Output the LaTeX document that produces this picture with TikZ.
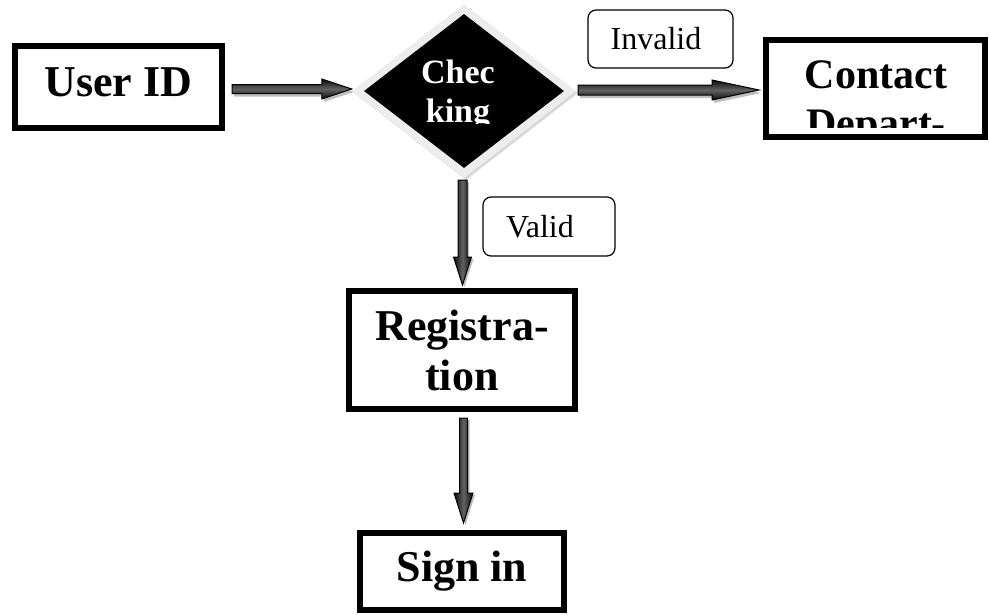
\documentclass[tikz,border=0pt]{standalone}
\usepackage{fontspec}
\setmainfont{Liberation Serif}
\usetikzlibrary{shapes.geometric,calc,shadows}
\tikzset{
  bigbox/.style={draw=black, line width=6pt, fill=white, inner sep=0pt,
    font=\fontsize{44}{50}\selectfont\bfseries, align=center},
  bigtxt/.style={inner sep=0pt, font=\fontsize{42}{48}\selectfont\bfseries},
  chktxt/.style={inner sep=0pt, text=white, font=\fontsize{34}{40}\selectfont\bfseries},
  tagbox/.style={draw=black, line width=1.2pt, rounded corners=8pt, fill=white,
    inner sep=0pt, font=\fontsize{32}{38}\selectfont},
  fatH/.style={draw=black, line width=1pt, top color=black!95, bottom color=black!95,
    middle color=black!62, drop shadow={shadow xshift=2pt, shadow yshift=-3pt, fill=black!50}},
  fatV/.style={draw=black, line width=1pt, left color=black!95, right color=black!95,
    middle color=black!62, drop shadow={shadow xshift=2pt, shadow yshift=-2pt, fill=black!50}},
}
\newcommand{\myHarrow}[5]{%
  \path[fatH] ($(#1)+(0,-#3)$) -- ($(#2)+(-#5,-#3)$) -- ($(#2)+(-#5,-#4)$) -- (#2)
    -- ($(#2)+(-#5,#4)$) -- ($(#2)+(-#5,#3)$) -- ($(#1)+(0,#3)$) -- cycle;}
\newcommand{\myVarrow}[5]{%
  \path[fatV] ($(#1)+(-#3,0)$) -- ($(#2)+(-#3,-#5)$) -- ($(#2)+(-#4,-#5)$) -- (#2)
    -- ($(#2)+(#4,-#5)$) -- ($(#2)+(#3,-#5)$) -- ($(#1)+(#3,0)$) -- cycle;}
\begin{document}
\begin{tikzpicture}[x=1pt, y=-1pt]
\useasboundingbox (0,0) rectangle (989,614);

% boxes
\node[bigbox, minimum width=207pt, minimum height=82pt, text depth=9pt] (userid) at (118.5,87) {User ID};
\node[bigbox, minimum width=219pt, minimum height=97pt] (contact) at (875.5,88.5) {};
\node[bigbox, minimum width=226pt, minimum height=118pt] (reg) at (462,350) {Registra-\\tion};
\node[bigbox, minimum width=204pt, minimum height=77pt] (sign) at (462,571.5) {Sign in};

% contact text (clipped by the box)
\begin{scope}
  \clip (769,43) rectangle (982,127);
  \node[bigtxt, anchor=base] (ct1) at (876,88) {Contact};
  \node[bigtxt, anchor=base] (ct2) at (876,137) {Depart-};
\end{scope}

% decision diamond
\node[diamond, minimum width=224pt, minimum height=174pt, inner sep=0pt, fill=black!7,
  drop shadow={shadow xshift=2pt, shadow yshift=-2pt, fill=black!30}] (check) at (464,91) {};
\node[diamond, minimum width=200pt, minimum height=154pt, inner sep=0pt, fill=black] (checkcore) at (464,91) {};
\begin{scope}
  \clip (380,40) rectangle (550,123);
  \node[chktxt, anchor=base] (chk1) at (458,83) {Chec};
  \node[chktxt, anchor=base] (chk2) at (458,122) {king};
\end{scope}

% labels
\node[tagbox, minimum width=145pt, minimum height=58pt] (invalid) at (660.5,39) {\hspace*{-9pt}Invalid};
\node[tagbox, minimum width=132pt, minimum height=59pt] (valid) at (549,226.5) {\hspace*{-18pt}Valid};

% connectors
\coordinate (a1s) at ($(userid.east)+(7,2)$);
\coordinate (a1e) at (a1s -| check.west);
\myHarrow{a1s}{a1e}{4.5}{10}{30}

\coordinate (a2s) at ($(check.east)+(2,-1)$);
\coordinate (a2x) at (a2s -| contact.west);
\coordinate (a2e) at ($(a2x)+(-4,0)$);
\myHarrow{a2s}{a2e}{5}{10}{47}

\coordinate (v1s) at ($(check.south)+(-1.5,2)$);
\coordinate (v1x) at (v1s |- reg.north);
\coordinate (v1e) at ($(v1x)+(0,-3)$);
\myVarrow{v1s}{v1e}{4.5}{9}{28}

\coordinate (v2s) at ($(reg.south)+(1.5,6)$);
\coordinate (v2x) at (v2s |- sign.north);
\coordinate (v2e) at ($(v2x)+(0,-7)$);
\myVarrow{v2s}{v2e}{4}{9.5}{30}
\end{tikzpicture}
\end{document}
